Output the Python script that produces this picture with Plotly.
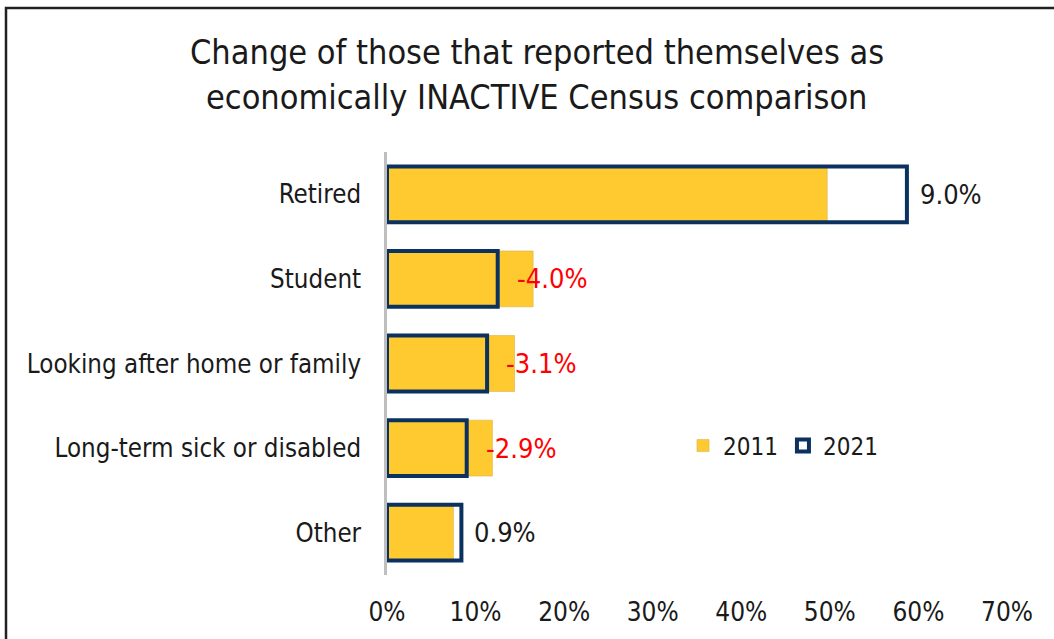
import plotly.graph_objects as go

# Census categories (economically inactive) and share of residents, in %
categories = ["Retired", "Student", "Looking after home or family",
              "Long-term sick or disabled", "Other"]
share_2011 = [49.7, 16.5, 14.4, 11.9, 7.5]
share_2021 = [58.7, 12.5, 11.3, 9.0, 8.4]
change_labels = ["9.0%", "-4.0%", "-3.1%", "-2.9%", "0.9%"]

tick_values = [0, 10, 20, 30, 40, 50, 60, 70]
tick_labels = ["0%", "10%", "20%", "30%", "40%", "50%", "60%", "70%"]

FONT = "DejaVu Sans Condensed, DejaVu Sans, sans-serif"
YELLOW = "#FFCA30"
NAVY = "#0B315E"
TEXT = "#1A1A1A"

fig = go.Figure()
fig.add_trace(go.Bar(
    name="2011", y=categories, x=share_2011, orientation="h",
    marker=dict(color=YELLOW, line=dict(color="#D9B04A", width=0.6)),
    width=0.66, hoverinfo="x+y",
))
fig.add_trace(go.Bar(
    name="2021", y=categories, x=share_2021, orientation="h",
    marker=dict(color="rgba(0,0,0,0)", line=dict(color=NAVY, width=4)),
    width=0.66, hoverinfo="x+y",
))

# change labels just past the end of the 2021 bar (falls shown in red)
for cat, v, lab in zip(categories, share_2021, change_labels):
    negative = lab.startswith("-")
    fig.add_annotation(
        x=v, y=cat, text=lab, showarrow=False, xanchor="left",
        xshift=17 if negative else 11,
        font=dict(family=FONT, size=27, color="#FF0000" if negative else TEXT),
    )

# two-line chart title
title_lines = ["Change of those that reported themselves as",
               "economically INACTIVE Census comparison"]
for i, line in enumerate(title_lines):
    fig.add_annotation(
        xref="paper", yref="paper", x=(537 - 387) / 620, y=1 + (152 - 52 - 45 * i) / 423,
        text=line, showarrow=False, xanchor="center", yanchor="middle",
        font=dict(family=FONT, size=34, color=TEXT),
    )

# frame around the chart area
fig.add_shape(type="rect", xref="paper", yref="paper",
              x0=(6 - 387) / 620, x1=(1060 - 387) / 620,
              y0=-(645 - 575) / 423, y1=1 + (152 - 8) / 423,
              line=dict(color="#222222", width=2.5), fillcolor="rgba(0,0,0,0)",
              layer="below")

fig.update_layout(
    width=1054, height=639,
    margin=dict(l=387, r=47, t=152, b=64, pad=0),
    barmode="overlay",
    plot_bgcolor="white", paper_bgcolor="white",
    font=dict(family=FONT, size=26, color=TEXT),
    showlegend=True,
    legend=dict(orientation="h", x=(683 - 387) / 620, y=(575 - 446) / 423,
                xanchor="left", yanchor="middle",
                font=dict(family=FONT, size=24, color=TEXT),
                bgcolor="rgba(0,0,0,0)", itemwidth=30, traceorder="normal"),
    xaxis=dict(range=[0, 70], tickvals=tick_values, ticktext=tick_labels,
               showgrid=False, zeroline=False, showline=False,
               ticks="", ticklabelstandoff=19,
               tickfont=dict(family=FONT, size=26, color=TEXT)),
    yaxis=dict(categoryorder="array", categoryarray=categories,
               autorange="reversed", showgrid=False, zeroline=False,
               showline=True, linecolor="#BFBFBF", linewidth=2.5,
               ticks="", ticklabelstandoff=18,
               tickfont=dict(family=FONT, size=25.7, color=TEXT)),
)

fig.write_html("out.html")
